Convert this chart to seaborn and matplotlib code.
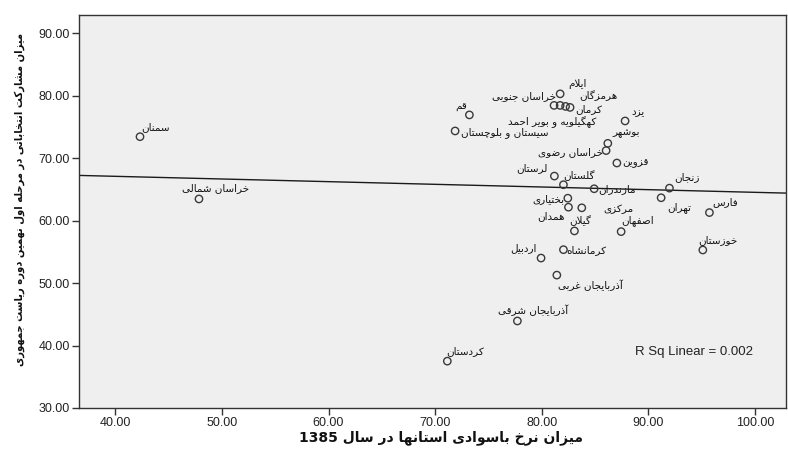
import re
import numpy as np
import pandas as pd
import matplotlib
matplotlib.use("Agg")
import matplotlib.pyplot as plt
from matplotlib import font_manager
import seaborn as sns

# ---- data: literacy rate 1385 (x) vs. turnout, 9th presidential election round 1 (y)
provinces = [
    "سمنان", "خراسان شمالی", "قم", "سیستان و بلوچستان", "خراسان جنوبی",
    "ایلام", "کهگیلویه و بویر احمد", "هرمزگان", "کرمان", "یزد",
    "بوشهر", "خراسان رضوی", "قزوین", "لرستان", "گلستان",
    "مازندران", "زنجان", "تهران", "فارس", "خوزستان",
    "بختیاری", "همدان", "مرکزی", "گیلان", "اصفهان",
    "کرمانشاه", "اردبیل", "آذربایجان غربی", "آذربایجان شرقی", "کردستان",
]
literacy = [
    42.32, 47.85, 73.21, 71.87, 81.72,
    81.15, 81.72, 82.23, 82.65, 87.81,
    86.19, 86.03, 87.04, 81.18, 82.03,
    84.91, 91.97, 91.19, 95.72, 95.10,
    82.44, 82.50, 83.75, 83.06, 87.44,
    82.03, 79.93, 81.41, 77.71, 71.14,
]
turnout = [
    73.42, 63.46, 76.91, 74.34, 80.28,
    78.43, 78.43, 78.27, 78.11, 75.94,
    72.36, 71.20, 69.21, 67.12, 65.74,
    65.09, 65.19, 63.65, 61.28, 55.29,
    63.58, 62.14, 62.04, 58.34, 58.23,
    55.34, 54.00, 51.27, 43.93, 37.50,
]
x_ticks = [40, 50, 60, 70, 80, 90, 100]
y_ticks = [30, 40, 50, 60, 70, 80, 90]
x_title = "میزان نرخ باسوادی استانها در سال 1385"
y_title = "میزان مشارکت انتخاباتی در مرحله اول نهمین دوره ریاست جمهوری"

# label placement around each marker: (dx, dy) in pixels and horizontal anchor
label_offsets = {
    "سمنان": (16, 10, "center"), "خراسان شمالی": (17, 11, "center"),
    "قم": (-8, 8, "center"), "سیستان و بلوچستان": (6, -2, "left"),
    "خراسان جنوبی": (-4, -2, "right"), "ایلام": (23, 21, "center"),
    "کهگیلویه و بویر احمد": (-8, -17, "center"), "هرمزگان": (33, 11, "center"),
    "کرمان": (5, -2, "left"), "یزد": (13, 9, "center"),
    "بوشهر": (18, 10, "center"), "خراسان رضوی": (-3, -1, "right"),
    "قزوین": (5, 0, "left"), "لرستان": (-22, 8, "center"),
    "گلستان": (16, 9, "center"), "مازندران": (4, 0, "left"),
    "زنجان": (17, 11, "center"), "تهران": (18, -10, "center"),
    "فارس": (16, 10, "center"), "خوزستان": (15, 10, "center"),
    "بختیاری": (-3, -1, "right"), "همدان": (-17, -9, "center"),
    "مرکزی": (37, -1, "center"), "گیلان": (6, 10, "center"),
    "اصفهان": (16, 11, "center"), "کرمانشاه": (3, 0, "left"),
    "اردبیل": (-18, 10, "center"), "آذربایجان غربی": (34, -10, "center"),
    "آذربایجان شرقی": (16, 11, "center"), "کردستان": (18, 10, "center"),
}

# ---- minimal Arabic-script shaping (presentation forms) for matplotlib
# forms: (isolated, final, initial, medial); None initial => right-joining only
FORMS = {
    "ا": ("\uFE8D", "\uFE8E", None, None), "آ": ("\uFE81", "\uFE82", None, None),
    "ب": ("\uFE8F", "\uFE90", "\uFE91", "\uFE92"), "پ": ("\uFB56", "\uFB57", "\uFB58", "\uFB59"),
    "ت": ("\uFE95", "\uFE96", "\uFE97", "\uFE98"), "ث": ("\uFE99", "\uFE9A", "\uFE9B", "\uFE9C"),
    "ج": ("\uFE9D", "\uFE9E", "\uFE9F", "\uFEA0"), "چ": ("\uFB7A", "\uFB7B", "\uFB7C", "\uFB7D"),
    "ح": ("\uFEA1", "\uFEA2", "\uFEA3", "\uFEA4"), "خ": ("\uFEA5", "\uFEA6", "\uFEA7", "\uFEA8"),
    "د": ("\uFEA9", "\uFEAA", None, None), "ذ": ("\uFEAB", "\uFEAC", None, None),
    "ر": ("\uFEAD", "\uFEAE", None, None), "ز": ("\uFEAF", "\uFEB0", None, None),
    "ژ": ("\uFB8A", "\uFB8B", None, None),
    "س": ("\uFEB1", "\uFEB2", "\uFEB3", "\uFEB4"), "ش": ("\uFEB5", "\uFEB6", "\uFEB7", "\uFEB8"),
    "ص": ("\uFEB9", "\uFEBA", "\uFEBB", "\uFEBC"), "ض": ("\uFEBD", "\uFEBE", "\uFEBF", "\uFEC0"),
    "ط": ("\uFEC1", "\uFEC2", "\uFEC3", "\uFEC4"), "ظ": ("\uFEC5", "\uFEC6", "\uFEC7", "\uFEC8"),
    "ع": ("\uFEC9", "\uFECA", "\uFECB", "\uFECC"), "غ": ("\uFECD", "\uFECE", "\uFECF", "\uFED0"),
    "ف": ("\uFED1", "\uFED2", "\uFED3", "\uFED4"), "ق": ("\uFED5", "\uFED6", "\uFED7", "\uFED8"),
    "ک": ("\uFB8E", "\uFB8F", "\uFB90", "\uFB91"), "گ": ("\uFB92", "\uFB93", "\uFB94", "\uFB95"),
    "ل": ("\uFEDD", "\uFEDE", "\uFEDF", "\uFEE0"), "م": ("\uFEE1", "\uFEE2", "\uFEE3", "\uFEE4"),
    "ن": ("\uFEE5", "\uFEE6", "\uFEE7", "\uFEE8"), "ه": ("\uFEE9", "\uFEEA", "\uFEEB", "\uFEEC"),
    "و": ("\uFEED", "\uFEEE", None, None), "ی": ("\uFBFC", "\uFBFD", "\uFBFE", "\uFBFF"),
}
LAM_ALEF = {"ا": ("\uFEFB", "\uFEFC"), "آ": ("\uFEF5", "\uFEF6")}


def dual(ch):
    return ch in FORMS and FORMS[ch][2] is not None


def shape(text):
    out = []
    i = 0
    n = len(text)
    while i < n:
        ch = text[i]
        prev = text[i - 1] if i > 0 else ""
        joins_prev = dual(prev)
        if ch == "ل" and i + 1 < n and text[i + 1] in LAM_ALEF:
            out.append(LAM_ALEF[text[i + 1]][1 if joins_prev else 0])
            i += 2
            continue
        if ch not in FORMS:
            out.append(ch)
            i += 1
            continue
        nxt = text[i + 1] if i + 1 < n else ""
        joins_next = dual(ch) and nxt in FORMS
        iso, fin, ini, med = FORMS[ch]
        if joins_prev and joins_next:
            out.append(med)
        elif joins_prev:
            out.append(fin)
        elif joins_next:
            out.append(ini)
        else:
            out.append(iso)
        i += 1
    visual = "".join(reversed(out))
    # keep digit runs left-to-right
    return re.sub(r"[0-9.]+", lambda m: m.group()[::-1], visual)


df = pd.DataFrame({"province": provinces, "literacy": literacy, "turnout": turnout})

sns.set_theme(style="white")
plt.rcParams["font.family"] = ["Liberation Sans", "DejaVu Sans"]

# a condensed bold face for the long vertical title, if one is installed
condensed = [f.fname for f in font_manager.fontManager.ttflist
             if f.name == "DejaVu Sans" and "Condensed" in f.fname
             and "Bold" in f.fname and "Oblique" not in f.fname]
y_title_font = (font_manager.FontProperties(fname=condensed[0], size=8.0)
                if condensed else
                font_manager.FontProperties(family="DejaVu Sans", weight="bold", size=6.6))

fig = plt.figure(figsize=(7.88, 4.5), dpi=100)
fig.patch.set_facecolor("white")
ax = fig.add_axes([79 / 788, 1 - 408 / 450, 707 / 788, 393 / 450])
ax.set_facecolor("#efefef")
ax.set_xlim(36.6, 102.9)
ax.set_ylim(30, 92.9)

sns.regplot(data=df, x="literacy", y="turnout", ax=ax, scatter=False, ci=None,
            truncate=False, line_kws={"color": "#1a1a1a", "linewidth": 1.0})
sns.scatterplot(data=df, x="literacy", y="turnout", ax=ax, s=28, marker="o",
                facecolor="none", edgecolor="#3a3a3a", linewidth=1.0, zorder=3)

for name, xv, yv in zip(provinces, literacy, turnout):
    dx, dy, ha = label_offsets[name]
    ax.annotate(shape(name), (xv, yv), xytext=(dx, dy), textcoords="offset pixels",
                ha=ha, va="center", fontsize=7.5, family=["DejaVu Sans"], color="#111111")

r = np.corrcoef(literacy, turnout)[0, 1]
ax.text(0.786, 0.1425, f"R Sq Linear = {r * r:.3f}", transform=ax.transAxes,
        ha="left", va="center", fontsize=9.5, color="#222222")

ax.set_xticks(x_ticks)
ax.set_yticks(y_ticks)
ax.set_xticklabels([f"{v:.2f}" for v in x_ticks])
ax.set_yticklabels([f"{v:.2f}" for v in y_ticks])
ax.tick_params(axis="both", which="major", direction="out", length=5, width=1,
               color="#333333", labelsize=9, labelcolor="#222222", pad=1.5,
               bottom=True, left=True)
for sp in ax.spines.values():
    sp.set_visible(True)
    sp.set_color("#333333")
    sp.set_linewidth(1.0)

ax.set_xlabel(shape(x_title), fontsize=10, fontweight="bold",
              family=["DejaVu Sans"], color="#111111")
ax.set_ylabel(shape(y_title), fontproperties=y_title_font, color="#111111")
ax.xaxis.set_label_coords(0.512, -0.057)
ax.yaxis.set_label_coords(-0.076, 0.53)

fig.savefig("out.png", dpi=100, facecolor="white")
